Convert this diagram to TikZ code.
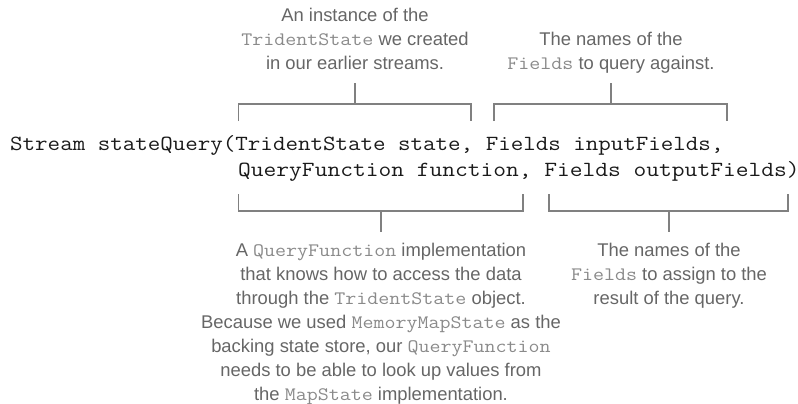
\documentclass[tikz,border=0pt]{standalone}
\usepackage{fontspec}
\setmainfont{Liberation Sans}
\newfontfamily\codefont[FakeStretch=1.125]{Latin Modern Mono}
\newfontfamily\codefontwide[FakeStretch=1.147]{Latin Modern Mono}
\usetikzlibrary{positioning}
\definecolor{labelgray}{HTML}{666666}
\definecolor{codegray}{HTML}{8A8A8A}
\definecolor{linegray}{HTML}{808080}
\definecolor{codeblack}{HTML}{1A1A1A}
\newcommand{\cw}[1]{{\codefont\fontsize{19}{24}\selectfont\color{codegray}#1}}
\tikzset{
  callout/.style={align=center, text=labelgray, inner sep=0pt,
    font=\fontsize{18.4}{24}\selectfont},
  codeline/.style={anchor=base west, inner sep=0pt, text=codeblack,
    font=\codefont\fontsize{21.6}{26}\selectfont},
  codelinewide/.style={anchor=base west, inner sep=0pt, text=codeblack,
    font=\codefontwide\fontsize{21.6}{26}\selectfont},
  bracket/.style={draw=linegray, line width=1.3pt},
}
\begin{document}
\begin{tikzpicture}[x=1pt,y=-1pt]
\useasboundingbox (0,0) rectangle (798,404);
% code
\node[codeline] (l1) at (10,150) {Stream stateQuery(TridentState state, Fields inputFields,};
\node[codelinewide] (l2) at (238,176) {QueryFunction function, Fields outputFields)};
% top labels
\node[callout, anchor=south] (t1) at (355,70) {An instance of the\\ \cw{TridentState} we created\\ in our earlier streams.};
\node[callout, anchor=south] (t2) at (611,74) {The names of the\\ \cw{Fields} to query against.};
% bottom labels
\node[callout, anchor=north] (b1) at (381,243) {A \cw{QueryFunction} implementation\\ that knows how to access the data\\ through the \cw{TridentState} object.\\ Because we used \cw{MemoryMapState} as the\\ backing state store, our \cw{QueryFunction}\\ needs to be able to look up values from\\ the \cw{MapState} implementation.};
\node[callout, anchor=north] (b2) at (669,243) {The names of the\\ \cw{Fields} to assign to the\\ result of the query.};
% bracket coordinates
\coordinate (t1s) at (355,83);
\coordinate (t1m) at (355,104);
\coordinate (t1a) at (238.5,121);
\coordinate (t1b) at (471,121);
\coordinate (t2s) at (611,83);
\coordinate (t2m) at (611,104);
\coordinate (t2a) at (494,121);
\coordinate (t2b) at (727,121);
\coordinate (b1s) at (381,232);
\coordinate (b1m) at (381,211);
\coordinate (b1a) at (238.5,194);
\coordinate (b1b) at (523,194);
\coordinate (b2s) at (669,232);
\coordinate (b2m) at (669,211);
\coordinate (b2a) at (549,194);
\coordinate (b2b) at (788,194);
% brackets
\draw[bracket] (t1a) |- (t1m) -| (t1b);
\draw[bracket] (t1m) -- (t1s);
\draw[bracket] (t2a) |- (t2m) -| (t2b);
\draw[bracket] (t2m) -- (t2s);
\draw[bracket] (b1a) |- (b1m) -| (b1b);
\draw[bracket] (b1m) -- (b1s);
\draw[bracket] (b2a) |- (b2m) -| (b2b);
\draw[bracket] (b2m) -- (b2s);
\end{tikzpicture}
\end{document}
